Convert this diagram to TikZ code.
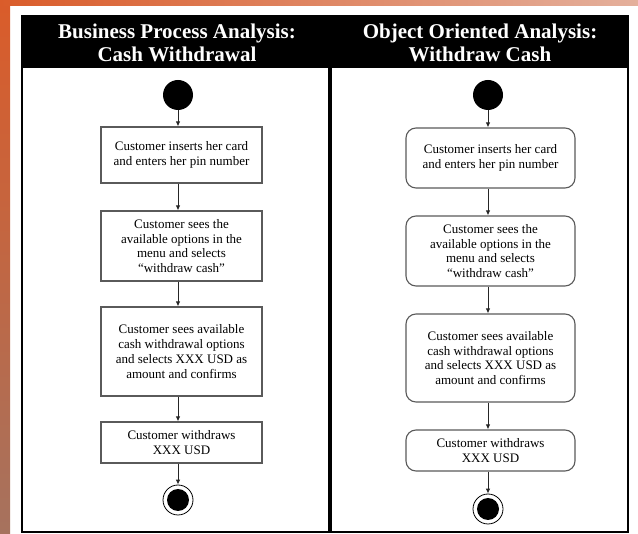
\documentclass[tikz,border=0pt]{standalone}
\usepackage{fontspec}
\setmainfont{Liberation Serif}
\usepackage{xcolor}
\definecolor{slideorange}{RGB}{218,92,42}
\definecolor{slidebrown}{RGB}{166,114,94}
\definecolor{slidepink}{RGB}{228,176,156}
\definecolor{boxline}{RGB}{90,90,90}
\usetikzlibrary{arrows.meta,positioning,calc}
\tikzset{
    panel/.style={draw=black, line width=1.6pt},
    titletext/.style={font=\fontsize{21}{23}\selectfont\bfseries, text=white, align=center},
    activity/.style={draw=boxline, line width=1.1pt, fill=white, align=center,
        font=\fontsize{13}{14.8}\selectfont, inner sep=0pt},
    roundact/.style={activity, rounded corners=10pt},
    initial/.style={circle, fill=black, minimum size=30pt, inner sep=0pt},
    final/.style={circle, draw=black, line width=0.8pt, fill=white, minimum size=30pt, inner sep=0pt,
        path picture={\fill[black] (path picture bounding box.center) circle (11pt);}},
    flow/.style={-{Latex[length=5pt,width=4.5pt]}, line width=0.9pt, draw=black!85}
}

\begin{document}
\begin{tikzpicture}[x=1pt, y=-1pt]
    \useasboundingbox (0,0) rectangle (638,534);

    % Slide background
    \fill[white] (0,0) rectangle (638,534);
    \shade[top color=slideorange, bottom color=slidebrown] (0,0) rectangle (10,534);
    \shade[left color=slideorange, right color=slidepink] (0,0) rectangle (638,6);

    % Panels
    \fill[black] (22,16) rectangle (329,68);
    \fill[black] (331,16) rectangle (628,68);
    \draw[panel] (22,16) rectangle (329,532);
    \draw[panel] (331,16) rectangle (628,532);

    % Titles
    \node[titletext] (bpatitle) at (177,43) {Business Process Analysis:\\Cash Withdrawal};
    \node[titletext] (ooatitle) at (480,43) {Object Oriented Analysis:\\Withdraw Cash};

    % Business process column
    \node[initial] (bpastart) at (178,95) {};
    \node[activity, minimum width=161pt, minimum height=56pt] (bpa1) at (181.5,155)
        {Customer inserts her card\\and enters her pin number};
    \node[activity, minimum width=161pt, minimum height=70pt] (bpa2) at (181.5,246)
        {Customer sees the\\available options in the\\menu and selects\\``withdraw cash''};
    \node[activity, minimum width=161pt, minimum height=89pt] (bpa3) at (181.5,351.5)
        {Customer sees available\\cash withdrawal options\\and selects XXX USD as\\amount and confirms};
    \node[activity, minimum width=161pt, minimum height=41pt] (bpa4) at (181.5,442.5)
        {Customer withdraws\\XXX USD};
    \node[final] (bpaend) at (178,500) {};

    \draw[flow] (bpastart) -- (bpastart |- bpa1.north);
    \draw[flow] (bpastart |- bpa1.south) -- (bpastart |- bpa2.north);
    \draw[flow] (bpastart |- bpa2.south) -- (bpastart |- bpa3.north);
    \draw[flow] (bpastart |- bpa3.south) -- (bpastart |- bpa4.north);
    \draw[flow] (bpastart |- bpa4.south) -- (bpaend);

    % Object oriented column
    \node[initial] (ooastart) at (488,95) {};
    \node[roundact, minimum width=169pt, minimum height=60pt] (ooa1) at (490.5,158)
        {Customer inserts her card\\and enters her pin number};
    \node[roundact, minimum width=169pt, minimum height=70pt] (ooa2) at (490.5,251)
        {Customer sees the\\available options in the\\menu and selects\\``withdraw cash''};
    \node[roundact, minimum width=169pt, minimum height=88pt] (ooa3) at (490.5,358)
        {Customer sees available\\cash withdrawal options\\and selects XXX USD as\\amount and confirms};
    \node[roundact, minimum width=169pt, minimum height=41pt] (ooa4) at (490.5,450.5)
        {Customer withdraws\\XXX USD};
    \node[final] (ooaend) at (488,509) {};

    \draw[flow] (ooastart) -- (ooastart |- ooa1.north);
    \draw[flow] (ooastart |- ooa1.south) -- (ooastart |- ooa2.north);
    \draw[flow] (ooastart |- ooa2.south) -- (ooastart |- ooa3.north);
    \draw[flow] (ooastart |- ooa3.south) -- (ooastart |- ooa4.north);
    \draw[flow] (ooastart |- ooa4.south) -- (ooaend);
\end{tikzpicture}
\end{document}
